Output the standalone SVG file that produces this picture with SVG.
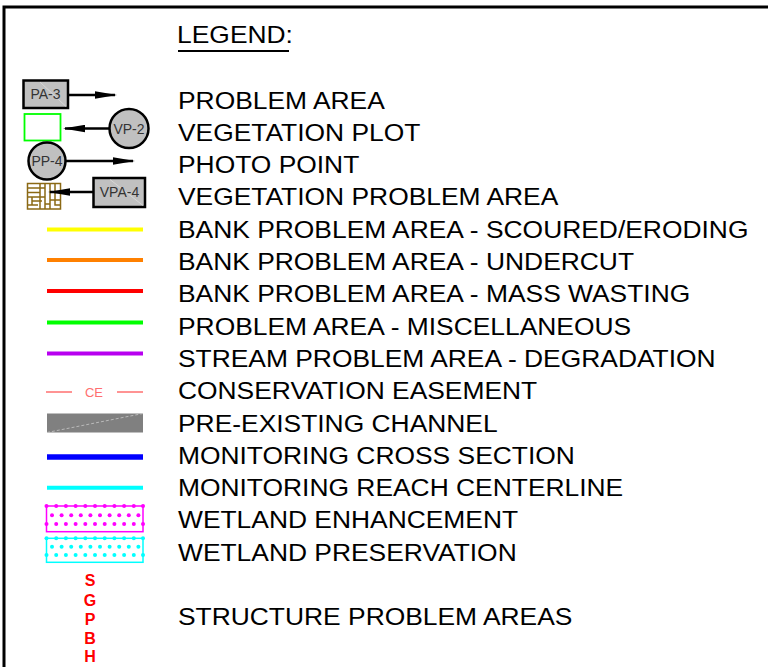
<svg xmlns="http://www.w3.org/2000/svg" width="768" height="667" viewBox="0 0 768 667">
<defs>
<style>
.lbl{font-family:"Liberation Sans",Arial,sans-serif;font-size:24px;fill:#000}
.sm{font-family:"Liberation Sans",Arial,sans-serif;font-size:14px;fill:#333;text-anchor:middle}
.sym{fill:#c0c0c0;stroke:#000;stroke-width:2.5}
.bar{stroke-width:4;fill:none}
.con{stroke:#000;stroke-width:2.5;fill:none;marker-end:url(#ah)}
.struct{font-family:"Liberation Sans",Arial,sans-serif;font-size:16px;font-weight:bold;fill:#ff0000;text-anchor:middle}
.dm{fill:#ff00ff}
.dc{fill:#00ffff}
.hatch{stroke:#8b6914;stroke-width:1.5;fill:none}
</style>
<marker id="ah" markerUnits="userSpaceOnUse" markerWidth="22" markerHeight="8" refX="20" refY="4" orient="auto">
<path d="M0,0.3 L22,4 L0,7.7 Z" fill="#000"/>
</marker>
</defs>
<rect width="768" height="667" fill="#fff"/>
<!-- frame -->
<path d="M4,667 V7 H768" fill="none" stroke="#000" stroke-width="3"/>

<!-- title -->
<g id="title">
<text class="lbl" transform="scale(1.1 1)" x="161" y="43.5">LEGEND:</text>
<line x1="178" y1="51" x2="289" y2="51" stroke="#000" stroke-width="2"/>
</g>

<!-- labels -->
<g id="labels" transform="scale(1.1 1)">
<text class="lbl" x="161.8" y="108.6">PROBLEM AREA</text>
<text class="lbl" x="161.8" y="140.9">VEGETATION PLOT</text>
<text class="lbl" x="161.8" y="173.2">PHOTO POINT</text>
<text class="lbl" x="161.8" y="205.5">VEGETATION PROBLEM AREA</text>
<text class="lbl" x="161.8" y="237.8">BANK PROBLEM AREA - SCOURED/ERODING</text>
<text class="lbl" x="161.8" y="270.1">BANK PROBLEM AREA - UNDERCUT</text>
<text class="lbl" x="161.8" y="302.4">BANK PROBLEM AREA - MASS WASTING</text>
<text class="lbl" x="161.8" y="334.7">PROBLEM AREA - MISCELLANEOUS</text>
<text class="lbl" x="161.8" y="367">STREAM PROBLEM AREA - DEGRADATION</text>
<text class="lbl" x="161.8" y="399.3">CONSERVATION EASEMENT</text>
<text class="lbl" x="161.8" y="431.6">PRE-EXISTING CHANNEL</text>
<text class="lbl" x="161.8" y="463.9">MONITORING CROSS SECTION</text>
<text class="lbl" x="161.8" y="496.2">MONITORING REACH CENTERLINE</text>
<text class="lbl" x="161.8" y="528.5">WETLAND ENHANCEMENT</text>
<text class="lbl" x="161.8" y="560.8">WETLAND PRESERVATION</text>
<text class="lbl" x="161.8" y="625">STRUCTURE PROBLEM AREAS</text>
</g>

<!-- symbol nodes -->
<g id="pa3">
<rect class="sym" x="23.5" y="80.5" width="44.5" height="27.5"/>
<line x1="40" y1="82" x2="66" y2="106.5" stroke="#dcdcdc" stroke-width="0.8"/>
<text class="sm" x="45.5" y="99">PA-3</text>
</g>
<g id="vegplot">
<rect x="24.5" y="114" width="36" height="26.5" fill="#fff" stroke="#00ff00" stroke-width="1.8"/>
</g>
<g id="vp2">
<circle class="sym" cx="129" cy="128.5" r="19.5"/>
<text class="sm" x="129" y="133.5">VP-2</text>
</g>
<g id="pp4">
<circle class="sym" cx="47" cy="161" r="18.5"/>
<text class="sm" x="47" y="166">PP-4</text>
</g>
<g id="vpa-area">
<rect class="hatch" x="27.5" y="183.5" width="33" height="25.5" fill="#fffdf2"/>
<path class="hatch" d="M28,188 H45 M28,192.5 H40 M28,197 H45 M32,201 H42 M28,205 H38 M40,183.5 V209 M45,183.5 V209 M50,183.5 V209 M55,183.5 V205 H60 M50,200 H60 M45,204 H50 M32,197 V205"/>
</g>
<g id="vpa4">
<rect class="sym" x="93.5" y="178" width="51.5" height="29"/>
<line x1="110" y1="179.5" x2="143" y2="205.5" stroke="#dcdcdc" stroke-width="0.8"/>
<text class="sm" x="119.5" y="197">VPA-4</text>
</g>

<!-- connectors -->
<g id="connectors">
<line class="con" x1="68" y1="95" x2="115" y2="95"/>
<line class="con" x1="109.5" y1="128.5" x2="65" y2="128.5"/>
<line class="con" x1="65.5" y1="161" x2="133" y2="161"/>
<line class="con" x1="93" y1="192" x2="50" y2="192"/>
</g>

<!-- line symbols -->
<g id="scoured"><line class="bar" x1="47" y1="229.5" x2="143" y2="229.5" stroke="#ffff00"/></g>
<g id="undercut"><line class="bar" x1="47" y1="260" x2="143" y2="260" stroke="#ff8000"/></g>
<g id="masswasting"><line class="bar" x1="47" y1="291" x2="143" y2="291" stroke="#ff0000"/></g>
<g id="misc"><line class="bar" x1="47" y1="322.5" x2="143" y2="322.5" stroke="#00ff00"/></g>
<g id="degradation"><line class="bar" x1="47" y1="353.5" x2="143" y2="353.5" stroke="#b800f0"/></g>
<g id="easement">
<line x1="46" y1="392" x2="72" y2="392" stroke="#ff6f6f" stroke-width="1.5"/>
<line x1="117" y1="392" x2="143" y2="392" stroke="#ff6f6f" stroke-width="1.5"/>
<text x="94" y="397" font-family="Liberation Sans, Arial, sans-serif" font-size="13" fill="#ff6f6f" text-anchor="middle">CE</text>
</g>
<g id="preexisting">
<rect x="47" y="413.5" width="96" height="19" fill="#808080"/>
<line x1="47" y1="432.5" x2="143" y2="413.5" stroke="#c8c8c8" stroke-width="0.8" stroke-dasharray="3 2"/>
</g>
<g id="crosssection"><line x1="47" y1="457" x2="143" y2="457" stroke="#0000ff" stroke-width="5.5"/></g>
<g id="centerline"><line class="bar" x1="47" y1="487.7" x2="143" y2="487.7" stroke="#00ffff"/></g>

<g id="wetland-enh">
<rect x="46.5" y="506" width="96.5" height="25.7" fill="#fff" stroke="#ff00ff" stroke-width="1.5"/>
<g class="dm">
<circle cx="46.5" cy="506" r="2"/><circle cx="56.2" cy="506" r="2"/><circle cx="65.9" cy="506" r="2"/><circle cx="75.6" cy="506" r="2"/><circle cx="85.3" cy="506" r="2"/><circle cx="95" cy="506" r="2"/><circle cx="104.7" cy="506" r="2"/><circle cx="114.4" cy="506" r="2"/><circle cx="124.1" cy="506" r="2"/><circle cx="133.8" cy="506" r="2"/><circle cx="143" cy="506" r="2"/>
<circle cx="52" cy="515.3" r="2"/><circle cx="61.6" cy="515.3" r="2"/><circle cx="71.2" cy="515.3" r="2"/><circle cx="80.8" cy="515.3" r="2"/><circle cx="90.4" cy="515.3" r="2"/><circle cx="100" cy="515.3" r="2"/><circle cx="109.6" cy="515.3" r="2"/><circle cx="119.2" cy="515.3" r="2"/><circle cx="128.8" cy="515.3" r="2"/><circle cx="138.4" cy="515.3" r="2"/>
<circle cx="46.5" cy="524" r="2"/><circle cx="56.2" cy="524" r="2"/><circle cx="65.9" cy="524" r="2"/><circle cx="75.6" cy="524" r="2"/><circle cx="85.3" cy="524" r="2"/><circle cx="95" cy="524" r="2"/><circle cx="104.7" cy="524" r="2"/><circle cx="114.4" cy="524" r="2"/><circle cx="124.1" cy="524" r="2"/><circle cx="133.8" cy="524" r="2"/><circle cx="143" cy="524" r="2"/>
</g>
</g>
<g id="wetland-pres">
<rect x="46.5" y="538.3" width="96.5" height="24" fill="#fff" stroke="#00ffff" stroke-width="1.5"/>
<g class="dc">
<circle cx="46.5" cy="538.3" r="2"/><circle cx="56.2" cy="538.3" r="2"/><circle cx="65.9" cy="538.3" r="2"/><circle cx="75.6" cy="538.3" r="2"/><circle cx="85.3" cy="538.3" r="2"/><circle cx="95" cy="538.3" r="2"/><circle cx="104.7" cy="538.3" r="2"/><circle cx="114.4" cy="538.3" r="2"/><circle cx="124.1" cy="538.3" r="2"/><circle cx="133.8" cy="538.3" r="2"/><circle cx="143" cy="538.3" r="2"/>
<circle cx="52" cy="546.7" r="2"/><circle cx="61.6" cy="546.7" r="2"/><circle cx="71.2" cy="546.7" r="2"/><circle cx="80.8" cy="546.7" r="2"/><circle cx="90.4" cy="546.7" r="2"/><circle cx="100" cy="546.7" r="2"/><circle cx="109.6" cy="546.7" r="2"/><circle cx="119.2" cy="546.7" r="2"/><circle cx="128.8" cy="546.7" r="2"/><circle cx="138.4" cy="546.7" r="2"/>
<circle cx="46.5" cy="555" r="2"/><circle cx="56.2" cy="555" r="2"/><circle cx="65.9" cy="555" r="2"/><circle cx="75.6" cy="555" r="2"/><circle cx="85.3" cy="555" r="2"/><circle cx="95" cy="555" r="2"/><circle cx="104.7" cy="555" r="2"/><circle cx="114.4" cy="555" r="2"/><circle cx="124.1" cy="555" r="2"/><circle cx="133.8" cy="555" r="2"/><circle cx="143" cy="555" r="2"/>
</g>
</g>

<g id="structure">
<text class="struct" x="90" y="586">S</text>
<text class="struct" x="90" y="605.5">G</text>
<text class="struct" x="90" y="624.5">P</text>
<text class="struct" x="90" y="643.5">B</text>
<text class="struct" x="90" y="662">H</text>
</g>
</svg>
